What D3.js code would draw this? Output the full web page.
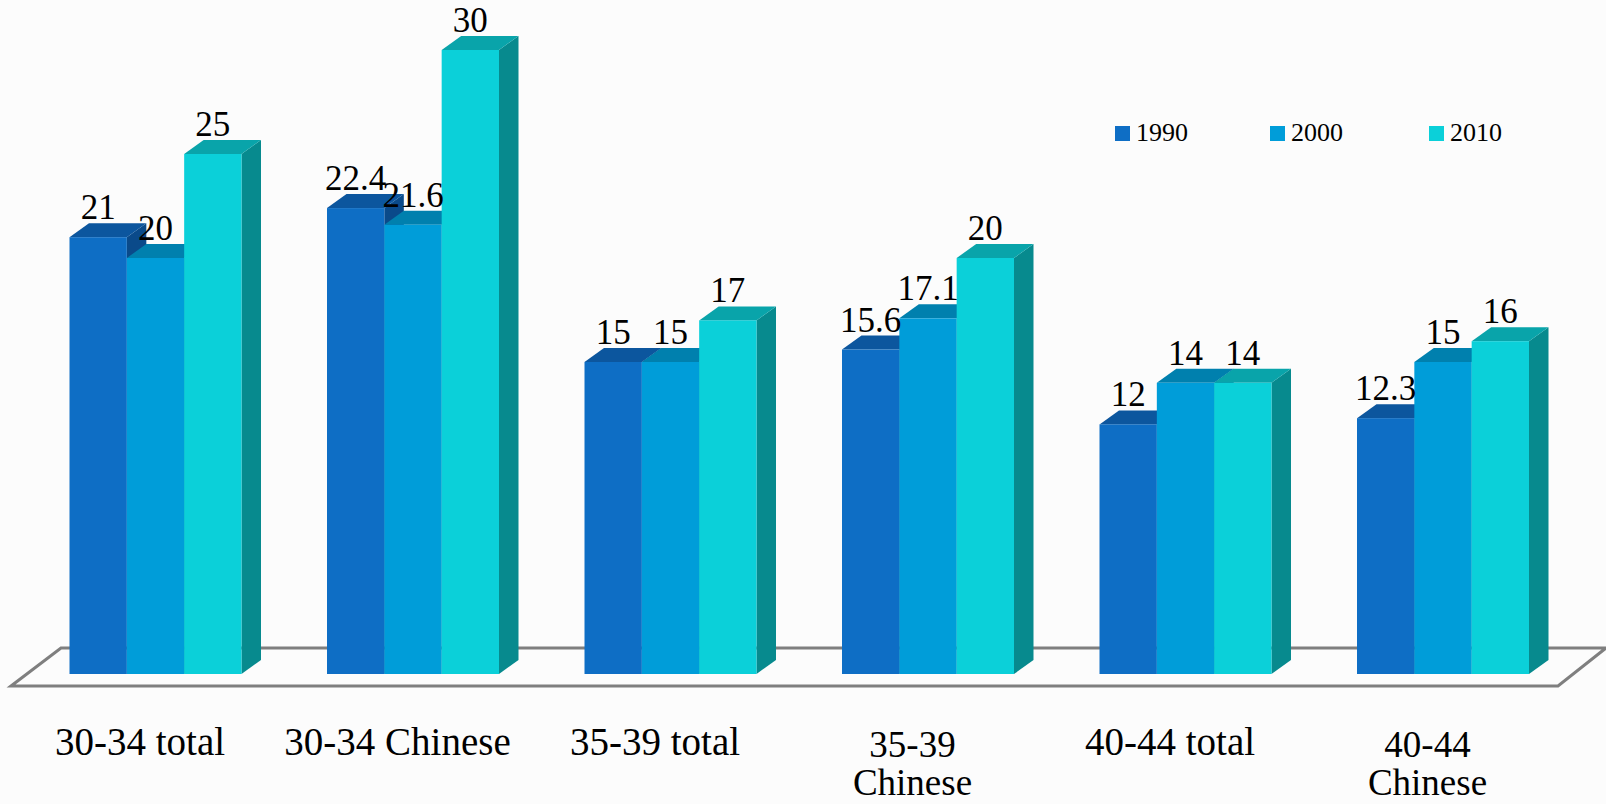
<!DOCTYPE html>
<html><head><meta charset="utf-8">
<script src="https://cdn.jsdelivr.net/npm/d3@7"></script>
<style>html,body{margin:0;padding:0;background:#fcfcfc;overflow:hidden}svg{display:block}text{font-family:"Liberation Serif",serif;fill:#000}</style>
</head><body><svg id="c" width="1606" height="804"></svg>
<script>
const categories = ["30-34 total","30-34 Chinese","35-39 total","35-39\nChinese","40-44 total","40-44\nChinese"];
const years = ["1990","2000","2010"];
const v1990 = [21,22.4,15,15.6,12,12.3];
const v2000 = [20,21.6,15,17.1,14,15];
const v2010 = [25,30,17,20,14,16];
const series = [v1990,v2000,v2010];
const fronts = ["#0E6EC5","#009DD9","#0BD0D9"];
const tops = ["#0C569E","#0080AE","#09A4AA"];
const sides = ["#0A4A8A","#006F97","#078A8E"];

const svg = d3.select("#c");
const baseY=674, topY=50, dx=19.5, dy=14;
const x = d3.scaleBand().domain(categories).range([69.5,1529]).paddingInner(1-172/257.5).paddingOuter(0);
const sub = d3.scaleBand().domain(years).range([0,x.bandwidth()]);
const y = d3.scaleLinear().domain([0,30]).range([baseY,topY]);

// floor
const floor = [[11,686],[61,648],[1606,648],[1558,686]];
svg.append("path").attr("d",d3.line()(floor)+"Z").attr("fill","none").attr("stroke","#7f7f7f").attr("stroke-width",3).attr("stroke-linejoin","miter");

// 3D bars
categories.forEach((c,ci)=>{
  const g = svg.append("g");
  years.forEach((yr,si)=>{
    const v = series[si][ci], x0 = x(c)+sub(yr), x1 = x0+sub.bandwidth(), yt = y(v);
    g.append("path").attr("fill",sides[si]).attr("d",d3.line()([[x1,yt],[x1+dx,yt-dy],[x1+dx,baseY-dy],[x1,baseY]])+"Z");
    g.append("path").attr("fill",tops[si]).attr("d",d3.line()([[x0,yt],[x0+dx,yt-dy],[x1+dx,yt-dy],[x1,yt]])+"Z");
    g.append("rect").attr("x",x0).attr("y",yt).attr("width",x1-x0).attr("height",baseY-yt).attr("fill",fronts[si]);
  });
});
// data labels
categories.forEach((c,ci)=>{
  years.forEach((yr,si)=>{
    const v = series[si][ci];
    svg.append("text").attr("x",x(c)+sub(yr)+sub.bandwidth()/2).attr("y",y(v)-18)
      .attr("text-anchor","middle").attr("font-size",35).text(v);
  });
});
// category axis
const axis = d3.axisBottom(x).tickSize(0).tickPadding(0);
const ag = svg.append("g").attr("transform","translate(-15.5,0)").call(axis);
ag.select(".domain").remove();
ag.selectAll(".tick text").each(function(d){
  const lines = d.split("\n");
  const multi = lines.length>1;
  const t = d3.select(this).text(null).attr("dy",null).attr("font-size",multi?37:39).style("font-family",'"Liberation Serif",serif').attr("fill","#000");
  lines.forEach((l,i)=>t.append("tspan").attr("x",0).attr("y",(multi?757:755)+i*38).text(l));
});
// legend
const legX = d3.scaleOrdinal().domain(years).range([1115,1270,1429]);
years.forEach((yr,i)=>{
  svg.append("rect").attr("x",legX(yr)).attr("y",126).attr("width",15).attr("height",15).attr("fill",fronts[i]);
  svg.append("text").attr("x",legX(yr)+21).attr("y",141).attr("font-size",26).text(yr);
});
</script></body></html>
